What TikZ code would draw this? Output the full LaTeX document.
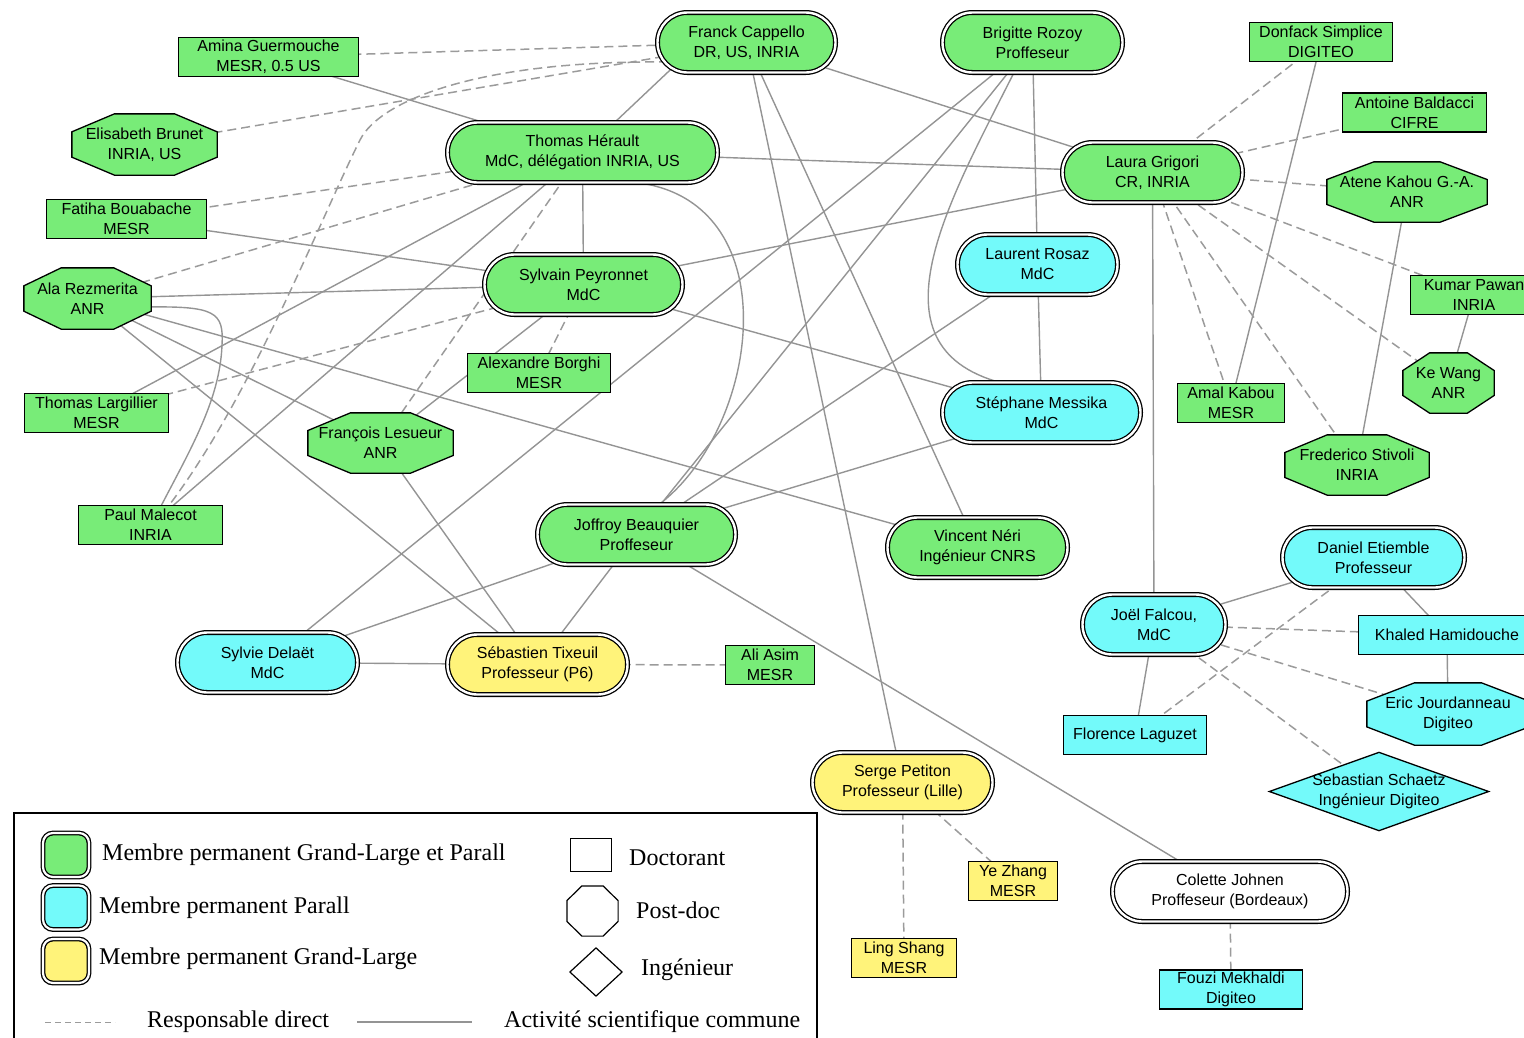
\documentclass[tikz,border=0pt]{standalone}
\usepackage{fontspec}
\setmainfont{Liberation Serif}
\setsansfont{Liberation Sans}
\usetikzlibrary{backgrounds,calc}
\definecolor{gl}{RGB}{120,236,120}
\definecolor{pa}{RGB}{115,250,250}
\definecolor{gr}{RGB}{255,243,122}
\definecolor{edgegray}{RGB}{148,148,148}
\definecolor{dashgray}{RGB}{155,155,155}

\makeatletter
\pgfdeclareshape{octobox}{%
  \inheritsavedanchors[from=rectangle]%
  \inheritanchorborder[from=rectangle]%
  \inheritanchor[from=rectangle]{center}%
  \inheritanchor[from=rectangle]{north}%
  \inheritanchor[from=rectangle]{south}%
  \inheritanchor[from=rectangle]{east}%
  \inheritanchor[from=rectangle]{west}%
  \inheritanchor[from=rectangle]{mid}%
  \inheritanchor[from=rectangle]{base}%
  \backgroundpath{%
    \southwest \pgf@xa=\pgf@x \pgf@ya=\pgf@y
    \northeast \pgf@xb=\pgf@x \pgf@yb=\pgf@y
    \pgf@xc=\pgf@xb \advance\pgf@xc by -\pgf@xa \pgf@xc=0.293\pgf@xc
    \pgf@yc=\pgf@yb \advance\pgf@yc by -\pgf@ya \pgf@yc=0.293\pgf@yc
    \edef\ocxA{\the\pgf@xa}\edef\ocxD{\the\pgf@xb}%
    \edef\ocyA{\the\pgf@ya}\edef\ocyD{\the\pgf@yb}%
    \advance\pgf@xa by \pgf@xc \edef\ocxB{\the\pgf@xa}%
    \advance\pgf@xb by -\pgf@xc \edef\ocxC{\the\pgf@xb}%
    \advance\pgf@ya by \pgf@yc \edef\ocyB{\the\pgf@ya}%
    \advance\pgf@yb by -\pgf@yc \edef\ocyC{\the\pgf@yb}%
    \pgfpathmoveto{\pgfqpoint{\ocxB}{\ocyD}}%
    \pgfpathlineto{\pgfqpoint{\ocxC}{\ocyD}}%
    \pgfpathlineto{\pgfqpoint{\ocxD}{\ocyC}}%
    \pgfpathlineto{\pgfqpoint{\ocxD}{\ocyB}}%
    \pgfpathlineto{\pgfqpoint{\ocxC}{\ocyA}}%
    \pgfpathlineto{\pgfqpoint{\ocxB}{\ocyA}}%
    \pgfpathlineto{\pgfqpoint{\ocxA}{\ocyB}}%
    \pgfpathlineto{\pgfqpoint{\ocxA}{\ocyC}}%
    \pgfpathclose
  }%
}
\pgfdeclareshape{diamondbox}{%
  \inheritsavedanchors[from=rectangle]%
  \inheritanchorborder[from=rectangle]%
  \inheritanchor[from=rectangle]{center}%
  \inheritanchor[from=rectangle]{north}%
  \inheritanchor[from=rectangle]{south}%
  \inheritanchor[from=rectangle]{east}%
  \inheritanchor[from=rectangle]{west}%
  \inheritanchor[from=rectangle]{mid}%
  \inheritanchor[from=rectangle]{base}%
  \backgroundpath{%
    \southwest \pgf@xa=\pgf@x \pgf@ya=\pgf@y
    \northeast \pgf@xb=\pgf@x \pgf@yb=\pgf@y
    \edef\ocxA{\the\pgf@xa}\edef\ocxD{\the\pgf@xb}%
    \edef\ocyA{\the\pgf@ya}\edef\ocyD{\the\pgf@yb}%
    \pgf@xc=\pgf@xa \advance\pgf@xc by \pgf@xb \pgf@xc=0.5\pgf@xc \edef\ocxM{\the\pgf@xc}%
    \pgf@yc=\pgf@ya \advance\pgf@yc by \pgf@yb \pgf@yc=0.5\pgf@yc \edef\ocyM{\the\pgf@yc}%
    \pgfpathmoveto{\pgfqpoint{\ocxM}{\ocyD}}%
    \pgfpathlineto{\pgfqpoint{\ocxD}{\ocyM}}%
    \pgfpathlineto{\pgfqpoint{\ocxM}{\ocyA}}%
    \pgfpathlineto{\pgfqpoint{\ocxA}{\ocyM}}%
    \pgfpathclose
  }%
}
\makeatother

\tikzset{
  every node/.style={font=\sffamily\fontsize{16}{20}\selectfont, align=center, inner sep=0pt, text=black},
  pill/.style 2 args={rectangle, rounded corners=29.9pt, draw=black, line width=1.3pt,
     double=white, double distance=2.4pt, fill=#2, minimum width=#1-5, minimum height=60},
  doc/.style 2 args={rectangle, draw=black, line width=1.3pt, fill=#2, minimum width=#1-1, minimum height=39},
  pd/.style n args={3}{octobox, draw=black, line width=1.3pt, fill=#3, minimum width=#1-1, minimum height=#2-1},
  eng/.style n args={3}{diamondbox, draw=black, line width=1.3pt, fill=#3, minimum width=#1, minimum height=#2},
  swatch/.style={rectangle, rounded corners=10pt, draw=black, line width=1.3pt,
     double=white, double distance=2.2pt, fill=#1, minimum width=46, minimum height=44},
  legtext/.style={anchor=west, font=\rmfamily\fontsize{24}{28}\selectfont},
  sol/.style={draw=edgegray, line width=1.4pt},
  dsh/.style={draw=dashgray, line width=1.5pt, dash pattern=on 9pt off 5pt},
}

\begin{document}
\begin{tikzpicture}[x=1pt,y=-1pt]
\useasboundingbox (0,0) rectangle (1524,1037);

% legend box
\draw[line width=1.3pt, fill=white] (14,813) rectangle (817,1060);

% ---------- permanent members (pills)
\node[pill={183}{gl}] (FC) at (746.5,42.5) {Franck Cappello\\DR, US, INRIA};
\node[pill={185}{gl}] (BR) at (1032.5,42.5) {Brigitte Rozoy\\Proffeseur};
\node[pill={275}{gl}] (TH) at (582.5,152.5) {Thomas Hérault\\MdC, délégation INRIA, US};
\node[pill={185}{gl}] (LG) at (1152.5,172.5) {Laura Grigori\\CR, INRIA};
\node[pill={203}{gl}] (SP) at (583.5,284.5) {Sylvain Peyronnet\\MdC};
\node[pill={165}{pa}] (LR) at (1037.5,264.5) {Laurent Rosaz\\MdC};
\node[pill={203}{pa}] (SM) at (1041.5,412.5) {Stéphane Messika\\MdC};
\node[pill={203}{gl}] (JB) at (636.5,534.5) {Joffroy Beauquier\\Proffeseur};
\node[pill={185}{gl}] (VN) at (977.5,547.5) {Vincent Néri\\Ingénieur CNRS};
\node[pill={187}{pa}] (DE) at (1373.5,557.5) {Daniel Etiemble\\Professeur};
\node[pill={148}{pa}] (JF) at (1154,624.5) {Joël Falcou,\\MdC};
\node[pill={185}{pa}] (SD) at (267.5,662.5) {Sylvie Delaët\\MdC};
\node[pill={185}{gr}] (ST) at (537.5,664.5) {Sébastien Tixeuil\\Professeur (P6)};
\node[pill={185}{gr}] (SPe) at (902.5,782.5) {Serge Petiton\\Professeur (Lille)};
\node[pill={240}{white}] (CJ) at (1230,891.5) {Colette Johnen\\Proffeseur (Bordeaux)};

% ---------- doctorants (rectangles)
\node[doc={181}{gl}] (AG) at (268.5,57) {Amina Guermouche\\MESR, 0.5 US};
\node[doc={161}{gl}] (FB) at (126.5,219) {Fatiha Bouabache\\MESR};
\node[doc={145}{gl}] (TL) at (96.5,413) {Thomas Largillier\\MESR};
\node[doc={145}{gl}] (PM) at (150.5,525) {Paul Malecot\\INRIA};
\node[doc={144}{gl}] (AB) at (539,373) {Alexandre Borghi\\MESR};
\node[doc={144}{gl}] (DS) at (1321,42) {Donfack Simplice\\DIGITEO};
\node[doc={145}{gl}] (ABa) at (1414.5,112.5) {Antoine Baldacci\\CIFRE};
\node[doc={128}{gl}] (KP) at (1474,295) {Kumar Pawan\\INRIA};
\node[doc={108}{gl}] (AKa) at (1231,403) {Amal Kabou\\MESR};
\node[doc={90}{gl}] (AA) at (770,665) {Ali Asim\\MESR};
\node[doc={178}{pa}] (KH) at (1447,635) {Khaled Hamidouche};
\node[doc={144}{pa}] (FLa) at (1135,735) {Florence Laguzet};
\node[doc={90}{gr}] (YZ) at (1013,881) {Ye Zhang\\MESR};
\node[doc={106}{gr}] (LS) at (904,958) {Ling Shang\\MESR};
\node[doc={144}{pa}] (FM) at (1231,989.5) {Fouzi Mekhaldi\\Digiteo};

% ---------- post-docs (octagons)
\node[pd={145}{61}{gl}] (EB) at (144.5,144.5) {Elisabeth Brunet\\INRIA, US};
\node[pd={127}{61}{gl}] (AR) at (87.5,298.5) {Ala Rezmerita\\ANR};
\node[pd={145}{60}{gl}] (FL) at (380.5,443) {François Lesueur\\ANR};
\node[pd={160}{60}{gl}] (AK) at (1407,192) {Atene Kahou G.-A.\\ANR};
\node[pd={91}{60}{gl}] (KW) at (1448.5,383) {Ke Wang\\ANR};
\node[pd={144}{60}{gl}] (FS) at (1357,465) {Frederico Stivoli\\INRIA};
\node[pd={162}{62}{pa}] (EJ) at (1448,714) {Eric Jourdanneau\\Digiteo};

% ---------- engineer (diamond)
\node[eng={218}{77}{pa}] (SS) at (1379,791.5) {Sebastian Schaetz\\Ingénieur Digiteo};

% ---------- legend
\node[swatch=gl] (lgA) at (66,855) {};
\node[swatch=pa] (lgB) at (66,907.5) {};
\node[swatch=gr] (lgC) at (66,961) {};
\node[legtext] (lgAt) at (102,855) {Membre permanent Grand-Large et Parall};
\node[legtext] (lgBt) at (99,908) {Membre permanent Parall};
\node[legtext] (lgCt) at (99,959) {Membre permanent Grand-Large};
\node[rectangle, draw=black, line width=1.2pt, fill=white, minimum width=41, minimum height=33] (lgD) at (591,855) {};
\node[octobox, draw=black, line width=1.2pt, fill=white, minimum width=50, minimum height=49] (lgE) at (592.5,911) {};
\node[diamondbox, draw=black, line width=1.2pt, fill=white, minimum width=51, minimum height=47] (lgF) at (596,972) {};
\node[legtext] (lgDt) at (629,858) {Doctorant};
\node[legtext] (lgEt) at (636,910) {Post-doc};
\node[legtext] (lgFt) at (641,970) {Ingénieur};
\coordinate (lgG1) at (45,1022);
\coordinate (lgG2) at (115,1022);
\coordinate (lgH1) at (357,1022);
\coordinate (lgH2) at (472,1022);
\draw[draw=dashgray, line width=1pt, dash pattern=on 6pt off 4pt] (lgG1) -- (lgG2);
\draw[draw=edgegray, line width=1.2pt] (lgH1) -- (lgH2);
\node[legtext] (lgGt) at (147,1022) {Responsable direct};
\node[legtext] (lgHt) at (504,1022) {Activité scientifique commune};

% ---------- connectors
\begin{pgfonlayer}{background}
% solid: joint scientific activity
\draw[sol] (AG.center) -- (TH.center);
\draw[sol] ([shift={(-60.5,12.5)}]FC.center) -- ([shift={(13.5,-12.5)}]TH.center);
\draw[sol] (FC.center) -- (LG.center);
\draw[sol] (FC.center) -- (SPe.center);
\draw[sol] (FC.center) -- (VN.center);
\draw[sol] (TH.center) -- (LG.center);
\draw[sol] (TH.center) -- (SP.center);
\draw[sol] (TH.center) -- (TL.center);
\draw[sol] (TH.center) -- (PM.center);
\draw[sol] ([shift={(57.5,30.5)}]TH.center) .. controls (790,205) and (760,430) .. ([shift={(20.5,-28.5)}]JB.center);
\draw[sol] (FB.center) -- (SP.center);
\draw[sol] (AR.center) -- (SP.center);
\draw[sol] ([shift={(60,8.5)}]AR.center) .. controls (215,306) and (224,312) .. (222,345)
   .. controls (220,400) and (190,450) .. ([shift={(9.5,-17)}]PM.center);
\draw[sol] (AR.center) -- (VN.center);
\draw[sol] (AR.center) -- (FL.center);
\draw[sol] (AR.center) -- (ST.center);
\draw[sol] (SP.center) -- (LG.center);
\draw[sol] (SP.center) -- (SM.center);
\draw[sol] (SP.center) -- (FL.center);
\draw[sol] (FL.center) -- (ST.center);
\draw[sol] (BR.center) -- (LR.center);
\draw[sol] (BR.center) -- (SD.center);
\draw[sol] (BR.center) -- (JB.center);
\draw[sol] ([shift={(-17.5,28)}]BR.center) .. controls (950,200) and (865,345) .. ([shift={(-41.5,-30)}]SM.center);
\draw[sol] (LR.center) -- (SM.center);
\draw[sol] (LR.center) -- (JB.center);
\draw[sol] (SM.center) -- (JB.center);
\draw[sol] (JB.center) -- (SD.center);
\draw[sol] (JB.center) -- (ST.center);
\draw[sol] (JB.center) -- (CJ.center);
\draw[sol] (SD.center) -- (ST.center);
\draw[sol] (DS.center) -- (AKa.center);
\draw[sol] (AK.center) -- (FS.center);
\draw[sol] (KP.center) -- (KW.center);
\draw[sol] (LG.center) -- (JF.center);
\draw[sol] (DE.center) -- (JF.center);
\draw[sol] (DE.center) -- (KH.center);
\draw[sol] (KH.center) -- (EJ.center);
\draw[sol] (JF.center) -- (FLa.center);
% dashed: direct supervisor
\draw[dsh] (AG.center) -- (FC.center);
\draw[dsh] (EB.center) -- (FC.center);
\draw[dsh] ([shift={(-78.5,19.5)}]FC.center) .. controls (480,60) and (380,100) .. (360,140)
   .. controls (320,220) and (250,400) .. ([shift={(16.5,-17)}]PM.center);
\draw[dsh] (FB.center) -- (TH.center);
\draw[dsh] (AR.center) -- (TH.center);
\draw[dsh] (TH.center) -- (FL.center);
\draw[dsh] (TL.center) -- (SP.center);
\draw[dsh] (SP.center) -- (AB.center);
\draw[dsh] (LG.center) -- (DS.center);
\draw[dsh] (LG.center) -- (ABa.center);
\draw[dsh] (LG.center) -- (AK.center);
\draw[dsh] (LG.center) -- (KP.center);
\draw[dsh] (LG.center) -- (KW.center);
\draw[dsh] (LG.center) -- (FS.center);
\draw[dsh] (LG.center) -- (AKa.center);
\draw[dsh] (DE.center) -- (FLa.center);
\draw[dsh] (JF.center) -- (KH.center);
\draw[dsh] (JF.center) -- (EJ.center);
\draw[dsh] (JF.center) -- (SS.center);
\draw[dsh] (ST.center) -- (AA.center);
\draw[dsh] (SPe.center) -- (YZ.center);
\draw[dsh] (SPe.center) -- (LS.center);
\draw[dsh] (CJ.center) -- (FM.center);
\end{pgfonlayer}
\end{tikzpicture}
\end{document}
